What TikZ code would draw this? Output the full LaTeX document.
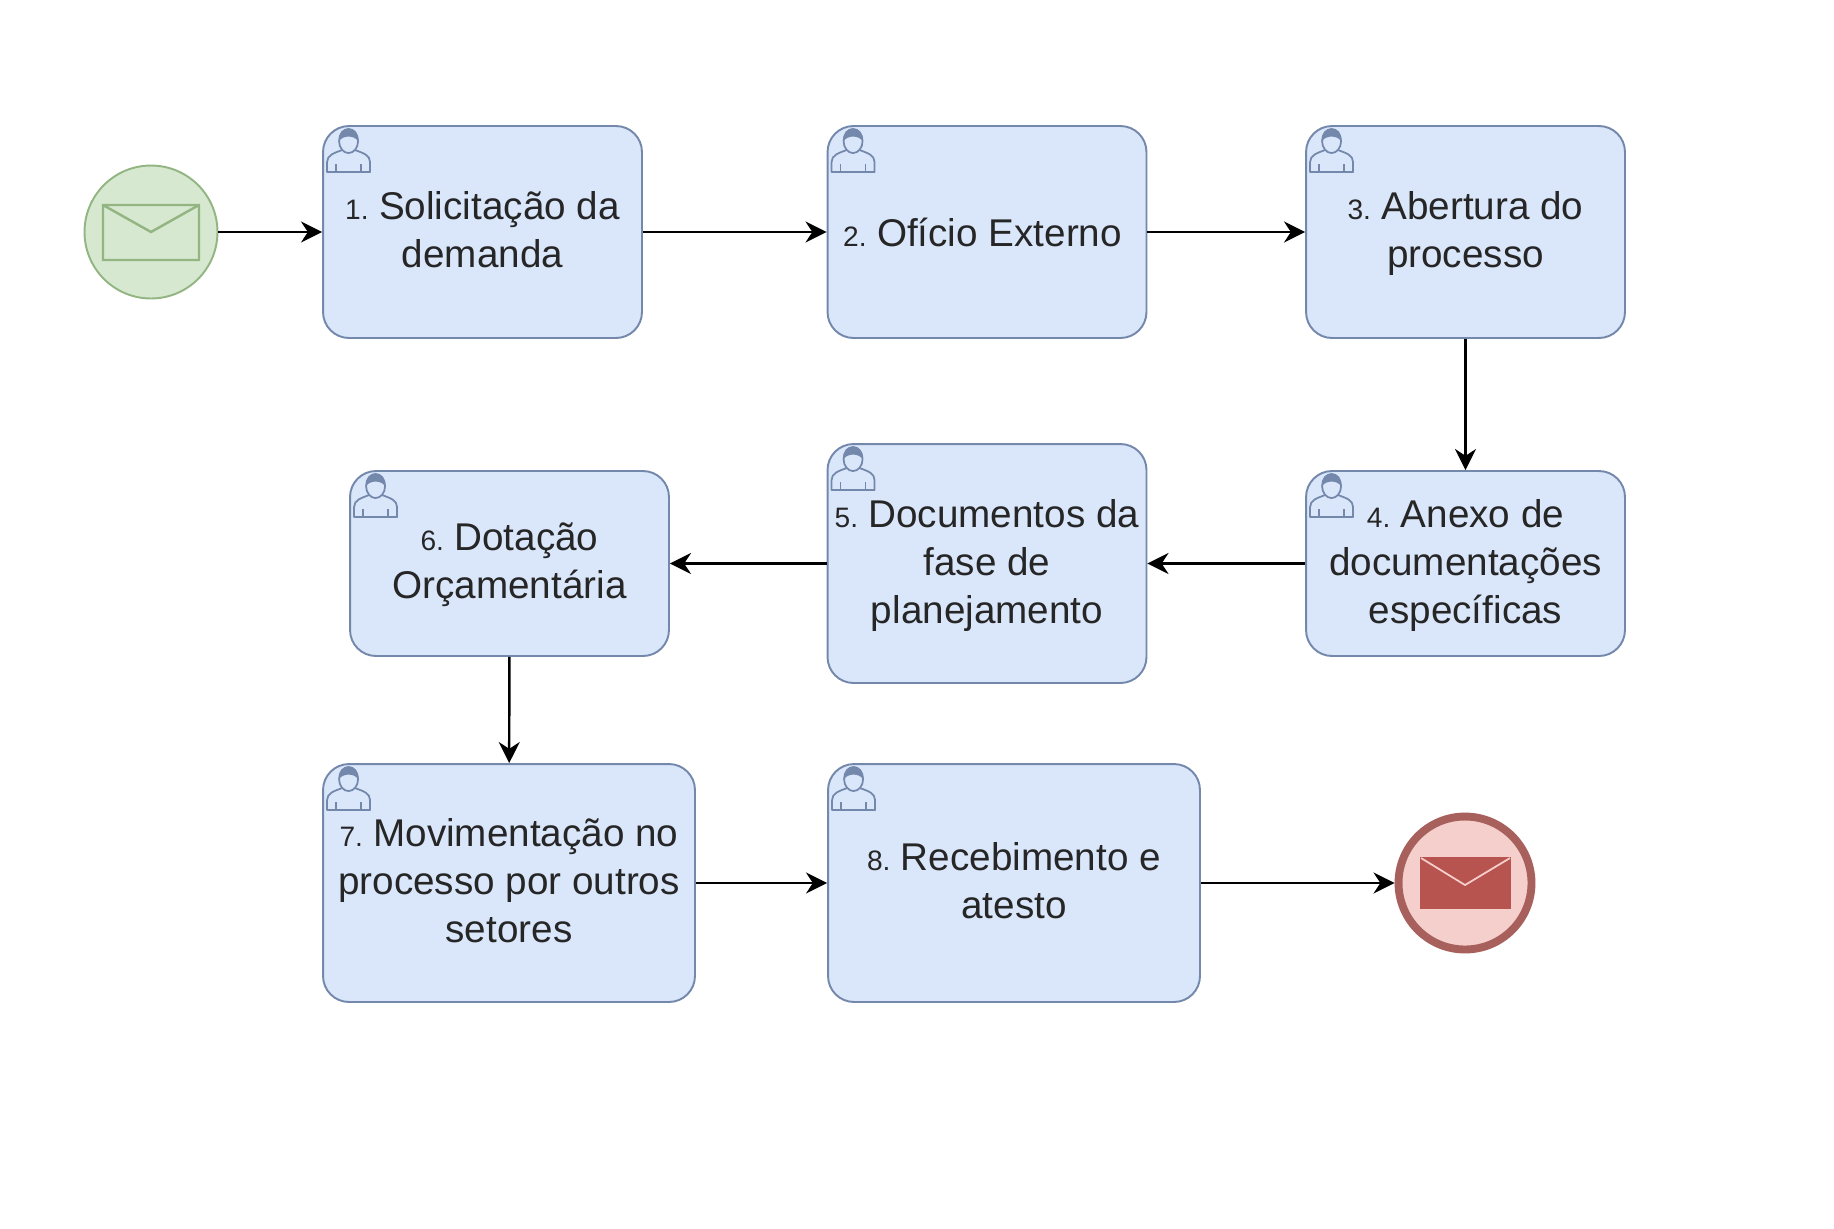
\documentclass[tikz,border=0pt]{standalone}
\usepackage{fontspec}
\setmainfont{Liberation Sans}
\usetikzlibrary{arrows.meta}
\definecolor{taskfill}{HTML}{DAE7FA}
\definecolor{taskline}{HTML}{7488AC}
\definecolor{startfill}{HTML}{D7E8D0}
\definecolor{startline}{HTML}{93B582}
\definecolor{endfill}{HTML}{F4CFCC}
\definecolor{endline}{HTML}{A8605C}
\definecolor{endmail}{HTML}{B85450}
\newcommand{\num}[1]{{\fontsize{16}{27}\selectfont #1 }}
\tikzset{
  task/.style={draw=taskline,fill=taskfill,line width=1.1pt,rounded corners=0.52cm,
    align=center,inner sep=0pt,text=black!85,font=\fontsize{22}{27.3}\selectfont,
    execute at begin node=\strut,execute at end node=\strut,text depth=2.8pt},
  flow/.style={-{Stealth[length=12pt,width=12pt]},line width=1.4pt,black},
  person/.pic={
    \draw[taskline,line width=1pt,line join=round]
      (5,-47) -- (5,-37) .. controls (5,-30) and (12,-28) .. (20,-25)
      -- (33,-25) .. controls (41,-28) and (48,-30) .. (48,-37) -- (48,-47) -- cycle;
    \draw[taskline,line width=1pt] (14,-47) -- (14,-39) (39,-47) -- (39,-39);
    \draw[taskline,line width=1pt,fill=taskfill] (26.5,-16) ellipse (9.5 and 12);
    \fill[taskline] (17,-16) .. controls (15,1) and (38,1) .. (36,-16)
      .. controls (32,-10) and (21,-10) .. (17,-16) -- cycle;
  }
}
\begin{document}
\begin{tikzpicture}[x=0.02cm,y=0.02cm]
  \useasboundingbox (0,0) rectangle (1834,-1228);
  % start and end events
  \node[circle,draw=startline,fill=startfill,line width=1.1pt,minimum size=2.66cm,inner sep=0pt] (start) at (151,-232) {};
  \node[circle,draw=endline,fill=endfill,line width=4.5pt,minimum size=2.66cm,inner sep=0pt] (end) at (1465,-883) {};
  \draw[startline,line width=1.4pt] (103,-205) rectangle (199,-260)
     (103,-205) -- (151,-232) -- (199,-205);
  \fill[endmail] (1420,-857) rectangle (1511,-909);
  \draw[endfill,line width=1pt] (1421,-858) -- (1465,-885) -- (1510,-858);
  % tasks, row by row
  \node[task,minimum width=6.38cm,minimum height=4.24cm] (sol) at (482.5,-232) {\num{1.}Solicitação da\\demanda};
  \node[task,minimum width=6.38cm,minimum height=4.24cm] (ofi) at (987,-232) {\num{2.}Ofício Externo\hspace{5pt}};
  \node[task,minimum width=6.38cm,minimum height=4.24cm] (abe) at (1465.5,-232) {\num{3.}Abertura do\\processo};
  \node[task,minimum width=6.38cm,minimum height=3.7cm] (ane) at (1465.5,-563.5) {\num{4.}Anexo de\\documentações\\específicas};
  \node[task,minimum width=6.38cm,minimum height=4.78cm] (doc) at (987,-563.5) {\num{5.}Documentos da\\fase de\\planejamento};
  \node[task,minimum width=6.38cm,minimum height=3.7cm] (dot) at (509.5,-563.5) {\num{6.}Dotação\\Orçamentária};
  \node[task,minimum width=7.44cm,minimum height=4.76cm] (mov) at (509,-883) {\num{7.}Movimentação no\\processo por outros\\setores};
  \node[task,minimum width=7.44cm,minimum height=4.76cm] (rec) at (1014,-883) {\num{8.}Recebimento e\\atesto};
  \foreach \t in {sol,ofi,abe,ane,doc,dot,mov,rec}
     { \pic at (\t.north west) {person}; }
  % connectors
  \draw[flow] (start) -- (sol);
  \draw[flow] (sol) -- (ofi);
  \draw[flow] (ofi) -- (abe);
  \draw[flow] (abe) -- (ane);
  \draw[flow] (ane) -- (doc);
  \draw[flow] (doc) -- (dot);
  \draw[flow] (dot) -- (mov);
  \draw[flow] (mov) -- (rec);
  \draw[flow] (rec) -- (end);
\end{tikzpicture}
\end{document}
